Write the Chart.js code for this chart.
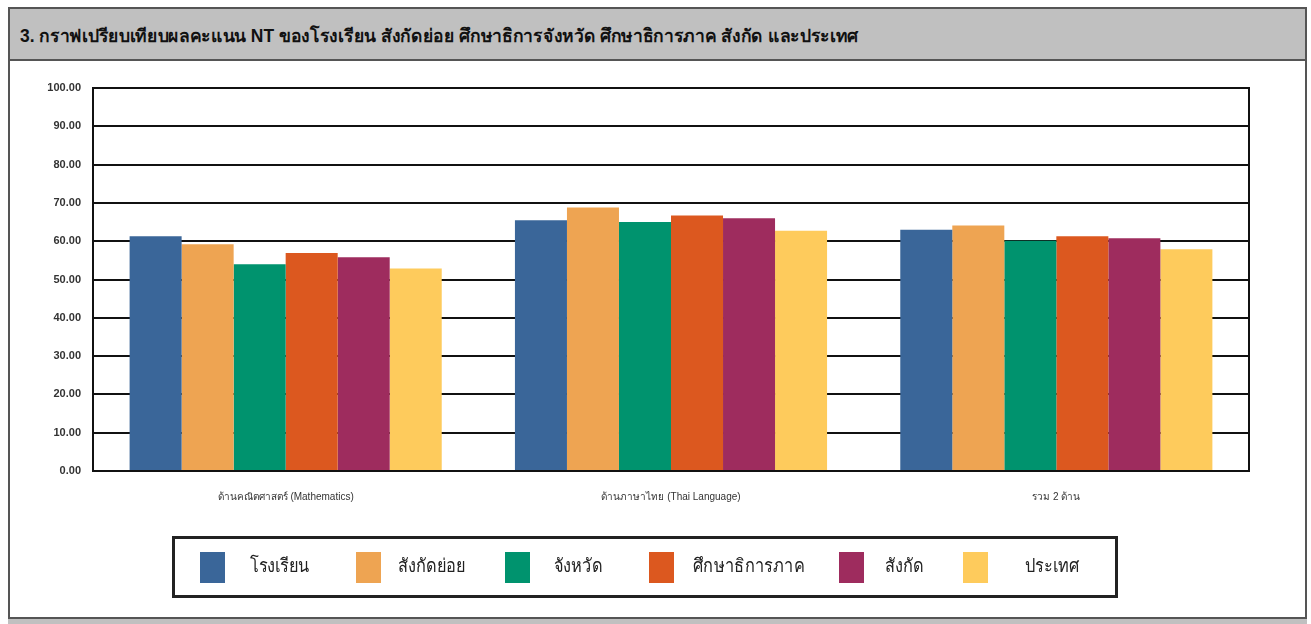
<!DOCTYPE html>
<html>
<head>
<meta charset="utf-8">
<script src="https://cdn.jsdelivr.net/npm/chart.js@4.4.1/dist/chart.umd.min.js"></script>
<style>
  body { margin: 0; width: 1311px; height: 624px; background: #fff; position: relative; overflow: hidden;
         font-family: "Liberation Sans", "Noto Sans", sans-serif; }
  .frame { position: absolute; left: 8px; top: 7px; width: 1299px; height: 630px; border: 2px solid #555; box-sizing: border-box; }
  .title { position: absolute; left: 8px; top: 7px; width: 1299px; height: 54px; background: #c0c0c0;
           border: 2px solid #555; box-sizing: border-box; }
  .title span { position: absolute; left: 10px; top: 12px; font-weight: bold; font-size: 18px; color: #111;
                white-space: nowrap; transform: scaleX(0.97); transform-origin: left center; }
  .bottomband { position: absolute; left: 8px; top: 617px; width: 1299px; height: 20px; background: #c0c0c0; border-top: 2px solid #555; }
  #chartWrap { position: absolute; left: 0; top: 0; width: 1311px; height: 624px; }
  .legend { position: absolute; left: 172px; top: 536px; width: 946px; height: 62px; box-sizing: border-box;
            border: 3px solid #222; }
  .legend .sw { position: absolute; top: 13px; width: 25px; height: 31px; }
  .legend .lb { position: absolute; top: 15px; font-size: 19px; color: #222; white-space: nowrap; line-height: 24px;
                transform: scaleX(0.86); transform-origin: left center; }
</style>
</head>
<body>
<div class="frame"></div>
<div class="title"><span>3. กราฟเปรียบเทียบผลคะแนน NT ของโรงเรียน สังกัดย่อย ศึกษาธิการจังหวัด ศึกษาธิการภาค สังกัด และประเทศ</span></div>
<div id="chartWrap"><canvas id="ntChart" width="1311" height="624"></canvas></div>
<div class="legend" id="legend"></div>
<div class="bottomband"></div>
<script>
const categories = ['ด้านคณิตศาสตร์ (Mathematics)', 'ด้านภาษาไทย (Thai Language)', 'รวม 2 ด้าน'];
const seriesNames = ['โรงเรียน', 'สังกัดย่อย', 'จังหวัด', 'ศึกษาธิการภาค', 'สังกัด', 'ประเทศ'];
const seriesColors = ['#3a6699', '#eea452', '#00936e', '#dc581f', '#9e2c5e', '#fecb5c'];
const school   = [61.3, 65.5, 63.0];
const subOrg   = [59.2, 68.8, 64.1];
const province = [54.0, 65.0, 60.1];
const region   = [56.9, 66.7, 61.3];
const affil    = [55.8, 66.0, 60.8];
const country  = [52.9, 62.7, 57.9];
const seriesValues = [school, subOrg, province, region, affil, country];
const yTicks = [0, 10, 20, 30, 40, 50, 60, 70, 80, 90, 100];

// legend layout (px inside the legend box)
const swatchX = [25, 181, 330, 474, 664, 788];
const labelX  = [75, 223, 379, 518, 710, 850];
const legendEl = document.getElementById('legend');
seriesNames.forEach((name, i) => {
  const sw = document.createElement('span');
  sw.className = 'sw';
  sw.style.left = swatchX[i] + 'px';
  sw.style.background = seriesColors[i];
  legendEl.appendChild(sw);
  const lb = document.createElement('span');
  lb.className = 'lb';
  lb.style.left = labelX[i] + 'px';
  lb.textContent = name;
  legendEl.appendChild(lb);
});

const frameBox = {
  id: 'frameBox',
  afterDraw(chart) {
    const { ctx, chartArea: a } = chart;
    ctx.save();
    ctx.strokeStyle = '#111';
    ctx.lineWidth = 2;
    ctx.strokeRect(a.left, a.top, a.right - a.left, a.bottom - a.top);
    ctx.restore();
  }
};

new Chart(document.getElementById('ntChart'), {
  type: 'bar',
  data: {
    labels: categories,
    datasets: seriesNames.map((n, i) => ({
      label: n,
      data: seriesValues[i],
      backgroundColor: seriesColors[i],
      categoryPercentage: 0.81,
      barPercentage: 1.0
    }))
  },
  options: {
    responsive: false,
    animation: false,
    layout: { padding: { left: 20, right: 62, top: 88, bottom: 113 } },
    plugins: { legend: { display: false }, tooltip: { enabled: false } },
    scales: {
      x: {
        grid: { display: false },
        border: { display: false },
        ticks: { color: '#333', font: { size: 10 }, padding: 12 },
        afterFit(s) { s.height = 40; }
      },
      y: {
        min: 0, max: 100,
        afterBuildTicks(s) { s.ticks = yTicks.map(v => ({ value: v })); },
        grid: { color: '#111', lineWidth: 2, drawTicks: false },
        border: { color: '#111', width: 2 },
        ticks: { color: '#333', font: { size: 11, weight: 'bold' }, padding: 12,
                 callback: v => v.toFixed(2) },
        afterFit(s) { s.width = 73; }
      }
    }
  },
  plugins: [frameBox]
});
</script>
</body>
</html>
